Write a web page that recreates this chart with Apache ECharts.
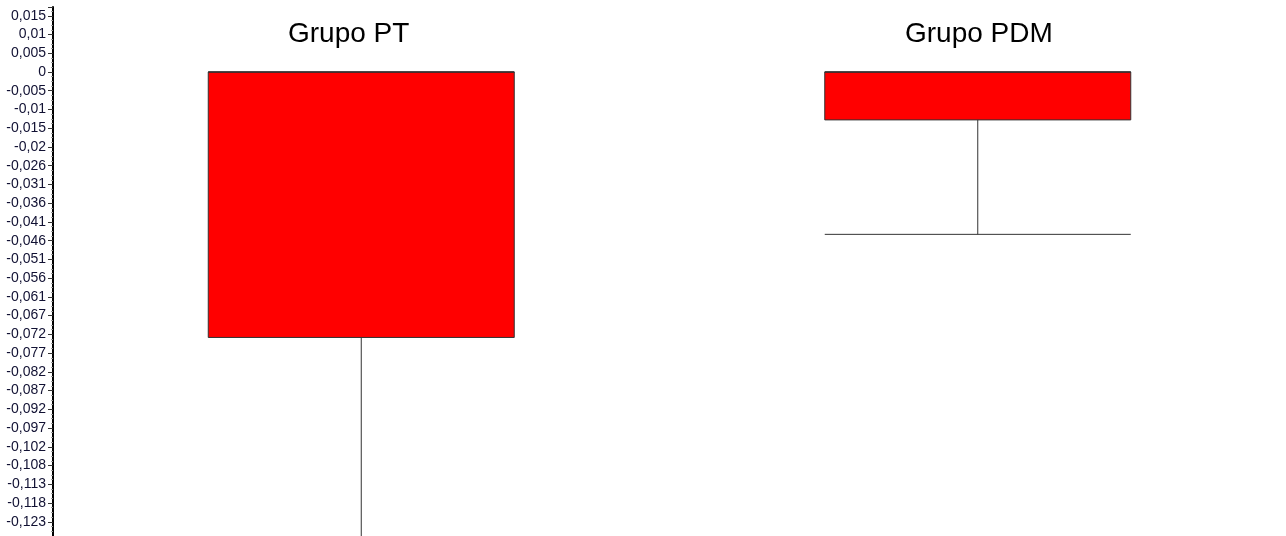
<!DOCTYPE html>
<html>
<head>
<meta charset="utf-8">
<script src="https://cdn.jsdelivr.net/npm/echarts@6/dist/echarts.min.js"></script>
<style>
html,body{margin:0;padding:0;background:#fff;}
#chart{width:1286px;height:536px;}
</style>
</head>
<body>
<div id="chart"></div>
<script>
// ---- data ----
const categories = ['Grupo PT', 'Grupo PDM'];
// boxplot values: [min, Q1, median, Q3, max]
const ptBox  = [-0.135, -0.0726, 0, 0, 0];
const pdmBox = [-0.0444, -0.0131, 0, 0, 0];
const tickStep = 0.005125;
const tickLabels = ['0,015','0,01','0,005','0','-0,005','-0,01','-0,015','-0,02','-0,026','-0,031','-0,036','-0,041','-0,046','-0,051','-0,056','-0,061','-0,067','-0,072','-0,077','-0,082','-0,087','-0,092','-0,097','-0,102','-0,108','-0,113','-0,118','-0,123'];
const topTick = 0.015375;

const chart = echarts.init(document.getElementById('chart'), null, {renderer:'canvas'});
chart.setOption({
  animation: false,
  backgroundColor: '#fff',
  title: [
    {text: categories[0], left: 288, top: 20, padding: 0, textStyle:{fontFamily:'Liberation Sans, Arial, sans-serif', fontSize:28, fontWeight:'normal', color:'#000'}},
    {text: categories[1], left: 905, top: 20, padding: 0, textStyle:{fontFamily:'Liberation Sans, Arial, sans-serif', fontSize:28, fontWeight:'normal', color:'#000'}}
  ],
  grid: {left: 53, right: 0, top: 7, height: 533.5, containLabel: false, outerBoundsMode: 'none'},
  xAxis: {
    type: 'category', data: categories, boundaryGap: true,
    axisLine:{show:false}, axisTick:{show:false}, axisLabel:{show:false}, splitLine:{show:false}
  },
  yAxis: {
    type: 'value',
    min: -25 * tickStep,
    max: 0.017776,
    interval: tickStep,
    splitLine: {show:false},
    axisLine: {show:true, lineStyle:{color:'#000', width:2}},
    axisTick: {show:true, length:5, lineStyle:{color:'#333', width:1}},
    minorTick: {show:true, splitNumber:4, length:2, lineStyle:{color:'#999', width:1}},
    showMinLabel: false,
    showMaxLabel: false,
    axisLabel: {
      margin: 7,
      fontFamily: 'Liberation Sans, Arial, sans-serif',
      fontSize: 14,
      color: '#111133',
      formatter: function (v) {
        const k = (topTick - v) / tickStep;
        const r = Math.round(k);
        if (Math.abs(k - r) > 1e-4) return '';
        return tickLabels[r] !== undefined ? tickLabels[r] : '';
      }
    }
  },
  series: [{
    type: 'boxplot',
    boxWidth: [306, 306],
    itemStyle: {color:'#ff0000', borderColor:'#333', borderWidth:1},
    emphasis: {disabled:true},
    data: [ptBox, pdmBox]
  }]
});
</script>
</body>
</html>
